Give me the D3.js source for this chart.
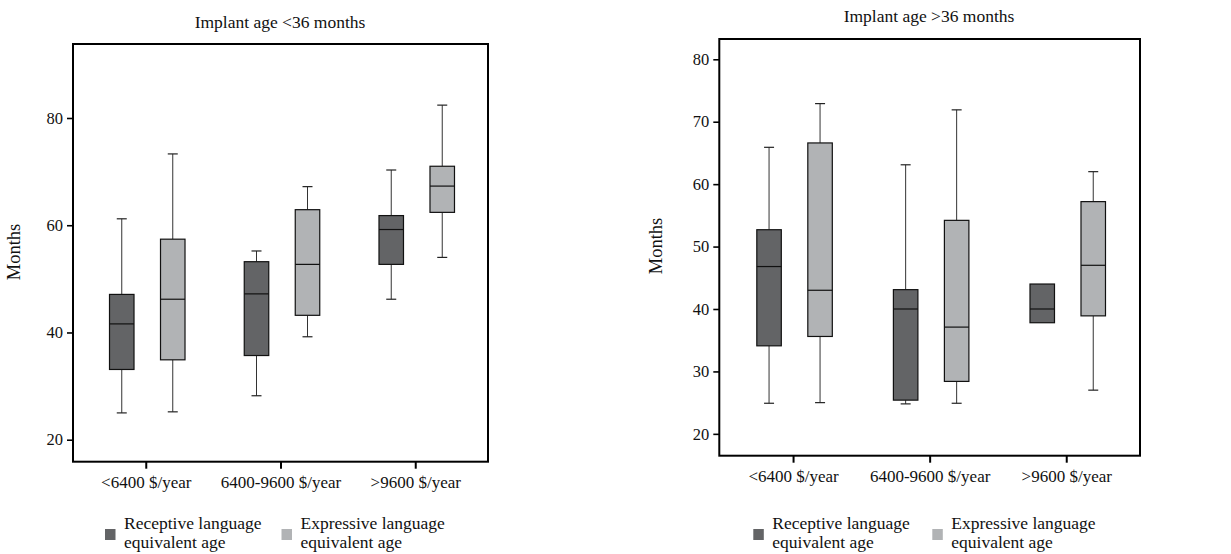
<!DOCTYPE html>
<meta charset="utf-8">
<style>
  body { margin: 0; background: #fff; }
  text { font-family: "Liberation Serif", serif; fill: #111; }
</style>
<body>
<script src="https://d3js.org/d3.v7.min.js"></script>
<script>

// categories and series
var categories = ["<6400 $/year", "6400-9600 $/year", ">9600 $/year"];
var seriesNames = ["Receptive language equivalent age", "Expressive language equivalent age"];
var legendLines = [["Receptive language", "equivalent age"], ["Expressive language", "equivalent age"]];

// box stats per category: [whiskerLow, q1, median, q3, whiskerHigh]  (null = no whisker)
var youngReceptive = [[25, 33.1, 41.6, 47.1, 61.2], [28.2, 35.7, 47.2, 53.2, 55.2], [46.2, 52.7, 59.2, 61.8, 70.3]];
var youngExpressive = [[25.2, 34.9, 46.2, 57.4, 73.3], [39.2, 43.2, 52.7, 62.9, 67.2], [54.0, 62.4, 67.3, 71.0, 82.4]];
var oldReceptive = [[24.9, 34.1, 46.8, 52.7, 65.9], [24.8, 25.4, 40.0, 43.1, 63.1], [null, 37.8, 40.0, 44.0, null]];
var oldExpressive = [[25, 35.6, 43.0, 66.6, 72.9], [24.9, 28.4, 37.1, 54.2, 71.9], [27.0, 38.9, 47.0, 57.2, 62.0]];

var youngTicks = [20, 40, 60, 80];
var oldTicks = [20, 30, 40, 50, 60, 70, 80];

var colors = ["#636466", "#b1b3b5"];

var svg = d3.select("body").append("svg")
    .attr("width", 1231)
    .attr("height", 554);

function drawPanel(opt) {
  var g = svg.append("g");
  var x = d3.scalePoint().domain(categories).range([opt.left, opt.right]).padding(0.54);
  var y = d3.scaleLinear().domain(opt.domain).range([opt.bottom, opt.top]);
  var boxW = 24.5;
  var offsets = [-24, 27];

  // title
  g.append("text")
    .attr("x", opt.titleX).attr("y", opt.titleY)
    .attr("text-anchor", "middle")
    .style("font-size", "17.5px")
    .text(opt.title);

  // y label
  g.append("text")
    .attr("transform", "translate(" + opt.ylabX + "," + opt.ylabY + ") rotate(-90)")
    .attr("text-anchor", "middle")
    .style("font-size", "18.5px")
    .text("Months");

  // boxes
  [opt.rec, opt.exp].forEach(function(series, si) {
    series.forEach(function(d, i) {
      var cx = x(categories[i]) + offsets[si];
      var b = g.append("g");
      if (d[4] != null) {
        b.append("line").attr("x1", cx).attr("x2", cx).attr("y1", y(d[3])).attr("y2", y(d[4]))
          .attr("stroke", "#333").attr("stroke-width", 1);
        b.append("line").attr("x1", cx - 5).attr("x2", cx + 5).attr("y1", y(d[4])).attr("y2", y(d[4]))
          .attr("stroke", "#222").attr("stroke-width", 1.2);
      }
      if (d[0] != null) {
        b.append("line").attr("x1", cx).attr("x2", cx).attr("y1", y(d[1])).attr("y2", y(d[0]))
          .attr("stroke", "#333").attr("stroke-width", 1);
        b.append("line").attr("x1", cx - 5).attr("x2", cx + 5).attr("y1", y(d[0])).attr("y2", y(d[0]))
          .attr("stroke", "#222").attr("stroke-width", 1.2);
      }
      b.append("rect")
        .attr("x", cx - boxW / 2).attr("width", boxW)
        .attr("y", y(d[3])).attr("height", y(d[1]) - y(d[3]))
        .attr("fill", colors[si]).attr("stroke", "#111").attr("stroke-width", 1.2);
      b.append("line").attr("x1", cx - boxW / 2).attr("x2", cx + boxW / 2)
        .attr("y1", y(d[2])).attr("y2", y(d[2]))
        .attr("stroke", "#111").attr("stroke-width", 1.2);
    });
  });

  // frame
  g.append("rect")
    .attr("x", opt.left).attr("y", opt.top)
    .attr("width", opt.right - opt.left).attr("height", opt.bottom - opt.top)
    .attr("fill", "none").attr("stroke", "#000").attr("stroke-width", 2);

  // axes
  var ya = g.append("g").attr("transform", "translate(" + opt.left + ",0)")
    .call(d3.axisLeft(y).tickValues(opt.ticks).tickSize(6).tickPadding(4));
  ya.select(".domain").remove();
  ya.selectAll("line").attr("stroke", "#000").attr("stroke-width", 1.6);
  ya.selectAll("text").style("font-size", "16.5px").attr("fill", "#111");

  var xa = g.append("g").attr("transform", "translate(0," + opt.bottom + ")")
    .call(d3.axisBottom(x).tickSize(7).tickPadding(7));
  xa.select(".domain").remove();
  xa.selectAll("line").attr("stroke", "#000").attr("stroke-width", 2);
  xa.selectAll("text").style("font-size", "17px").attr("fill", "#111");

  // legend
  legendLines.forEach(function(lines, li) {
    var lx = opt.legX[li];
    g.append("rect")
      .attr("x", lx).attr("y", opt.legY - 10)
      .attr("width", 10.5).attr("height", 11)
      .attr("fill", colors[li]);
    var t = g.append("text")
      .attr("x", lx + 19).attr("y", opt.legY - 10)
      .style("font-size", "17.5px");
    t.append("tspan").attr("x", lx + 19).text(lines[0]);
    t.append("tspan").attr("x", lx + 19).attr("dy", 19).text(lines[1]);
  });
}

drawPanel({
  left: 73, right: 488, top: 44, bottom: 461.7,
  domain: [15.9, 93.8], ticks: youngTicks,
  rec: youngReceptive, exp: youngExpressive,
  title: "Implant age <36 months", titleX: 280, titleY: 28,
  ylabX: 20, ylabY: 252,
  legX: [105, 281.5], legY: 539
});

drawPanel({
  left: 719.3, right: 1140, top: 39, bottom: 455.7,
  domain: [16.5, 83.25], ticks: oldTicks,
  rec: oldReceptive, exp: oldExpressive,
  title: "Implant age >36 months", titleX: 929, titleY: 22,
  ylabX: 662, ylabY: 246,
  legX: [753.3, 932.3], legY: 539
});

</script>
</body>
